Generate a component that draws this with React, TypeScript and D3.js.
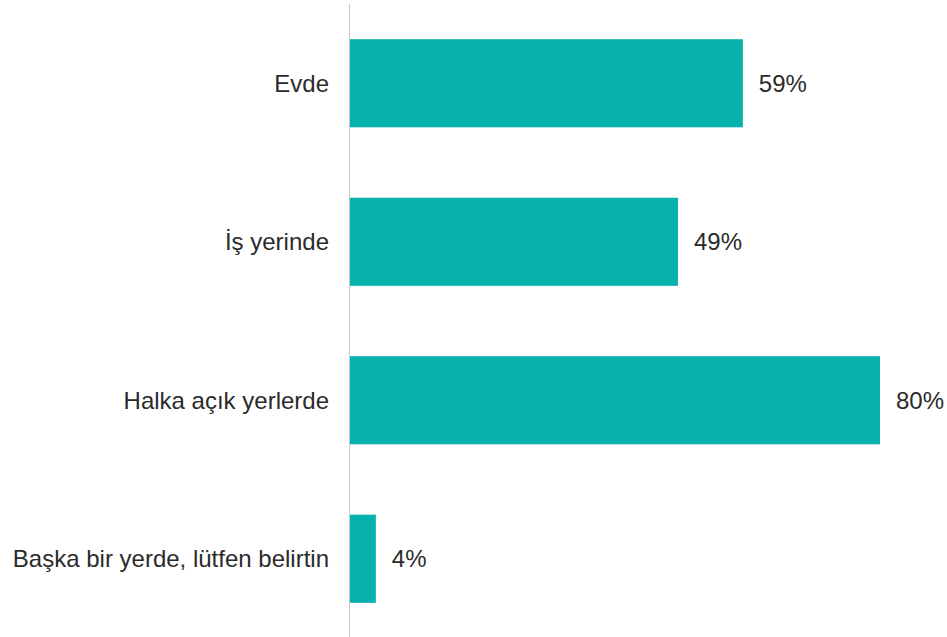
import React, { useEffect, useRef } from 'react';
import * as d3 from 'd3';

// values (labels show the rounded figure)
const categories = ['Evde', 'İş yerinde', 'Halka açık yerlerde', 'Başka bir yerde, lütfen belirtin'];
const values = [59.3, 49.5, 80.0, 3.9];
const valueLabels = ['59%', '49%', '80%', '4%'];

const WIDTH = 947;
const HEIGHT = 637;

const App: React.FC = () => {
  const ref = useRef<SVGSVGElement>(null);

  useEffect(() => {
    if (!ref.current) return;
    const svg = d3.select(ref.current);
    svg.selectAll('*').remove();

    const x0 = 350;
    const x = d3.scaleLinear().domain([0, 80]).range([x0, 880]);
    const y = d3
      .scaleBand<string>()
      .domain(categories)
      .range([4, HEIGHT + 1])
      .paddingInner(0.444)
      .paddingOuter(0.222);

    const font = '"Liberation Sans", Arial, sans-serif';

    // bars
    svg
      .append('g')
      .selectAll('rect')
      .data(values)
      .enter()
      .append('rect')
      .attr('x', x(0))
      .attr('y', (_, i) => y(categories[i]) || 0)
      .attr('width', (d) => x(d) - x(0))
      .attr('height', y.bandwidth())
      .attr('fill', '#07B1AE');

    // vertical axis line
    svg
      .append('line')
      .attr('x1', x0 - 0.5)
      .attr('x2', x0 - 0.5)
      .attr('y1', 4)
      .attr('y2', HEIGHT)
      .attr('stroke', '#c8c8c8')
      .attr('stroke-width', 1);

    // category labels
    svg
      .append('g')
      .selectAll('text')
      .data(categories)
      .enter()
      .append('text')
      .attr('x', x0 - 21)
      .attr('y', (d) => (y(d) || 0) + y.bandwidth() / 2)
      .attr('dy', '0.35em')
      .attr('text-anchor', 'end')
      .attr('font-family', font)
      .attr('font-size', 24)
      .attr('fill', '#2b2b2b')
      .text((d) => d);

    // value labels
    svg
      .append('g')
      .selectAll('text')
      .data(values)
      .enter()
      .append('text')
      .attr('x', (d) => x(d) + 16)
      .attr('y', (_, i) => (y(categories[i]) || 0) + y.bandwidth() / 2)
      .attr('dy', '0.35em')
      .attr('font-family', font)
      .attr('font-size', 24)
      .attr('fill', '#2b2b2b')
      .text((_, i) => valueLabels[i]);
  }, []);

  return (
    <svg
      ref={ref}
      width={WIDTH}
      height={HEIGHT}
      style={{ position: 'absolute', left: 0, top: 0, display: 'block', background: '#fff' }}
    />
  );
};

export default App;
